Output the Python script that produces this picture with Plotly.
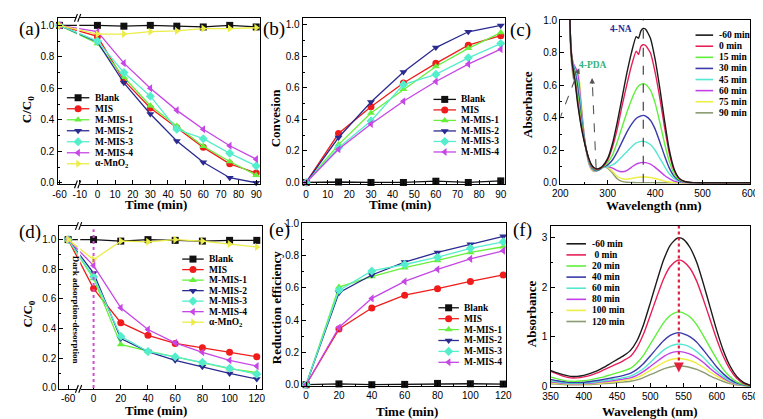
import plotly.graph_objects as go

W, H = 763, 419
SERIF = "Liberation Serif, Times New Roman, serif"
SANS = "Liberation Sans, Arial, sans-serif"

# ---------------- data ----------------
series_names = ["Blank", "MIS", "M-MIS-1", "M-MIS-2", "M-MIS-3", "M-MIS-4", "α-MnO<sub>2</sub>"]
series_colors = ["#111111", "#f01c1c", "#66f03c", "#2a2a90", "#55eecc", "#c646e6", "#ecec48"]
series_symbols = ["square", "circle", "triangle-up", "triangle-down", "diamond", "triangle-left", "triangle-right"]

# (a) C/C0 vs time
time_a = [-60, 0, 15, 30, 45, 60, 75, 90]
a_blank = [1.0, 1.0, 0.995, 1.0, 0.995, 0.99, 1.0, 0.99]
a_mis = [1.0, 0.93, 0.65, 0.475, 0.35, 0.225, 0.12, 0.062]
a_mmis1 = [1.0, 0.885, 0.67, 0.49, 0.36, 0.232, 0.135, 0.048]
a_mmis2 = [1.0, 0.895, 0.635, 0.437, 0.265, 0.13, 0.032, 0.0]
a_mmis3 = [1.0, 0.9, 0.70, 0.55, 0.34, 0.28, 0.187, 0.107]
a_mmis4 = [1.0, 0.96, 0.76, 0.60, 0.46, 0.34, 0.235, 0.15]
a_mno2 = [1.0, 0.945, 0.945, 0.96, 0.965, 0.98, 0.98, 0.985]
ticks_a = [-60, -10, 0, 10, 20, 30, 40, 50, 60, 70, 80, 90]

# (b) conversion
time_b = [0, 15, 30, 45, 60, 75, 90]
b_blank = [0.0, 0.003, 0.0, 0.0, 0.008, 0.0, 0.01]
b_mis = [0.0, 0.31, 0.48, 0.63, 0.755, 0.87, 0.93]
b_mmis1 = [0.0, 0.24, 0.44, 0.59, 0.735, 0.85, 0.95]
b_mmis2 = [0.0, 0.285, 0.51, 0.70, 0.855, 0.955, 0.995]
b_mmis3 = [0.0, 0.22, 0.39, 0.62, 0.685, 0.79, 0.88]
b_mmis4 = [0.0, 0.21, 0.37, 0.515, 0.64, 0.75, 0.845]

# (c) UV-vis spectra of 4-NA reduction
wl_c = [219, 222, 225, 228, 232, 236, 240, 245, 250, 255, 260, 265, 270, 275, 280, 285, 290,
        300, 310, 320, 330, 340, 350, 360, 365, 370, 375, 380, 390, 400, 410, 420, 430, 440, 450,
        460, 470, 480, 500, 550, 600]
c_m60 = [1.15, 0.85, 0.74, 0.68, 0.6, 0.5, 0.42, 0.33, 0.26, 0.2, 0.15, 0.115, 0.095, 0.087, 0.086, 0.092, 0.105,
         0.15, 0.24, 0.37, 0.52, 0.67, 0.80, 0.90, 0.89, 0.935, 0.95, 0.945, 0.89, 0.76, 0.58, 0.38, 0.20, 0.085, 0.03,
         0.01, 0.003, 0.001, 0, 0, 0]
c_0 = [1.15, 0.85, 0.74, 0.68, 0.61, 0.52, 0.43, 0.34, 0.265, 0.2, 0.148, 0.112, 0.092, 0.084, 0.084, 0.09, 0.1,
       0.14, 0.22, 0.33, 0.47, 0.60, 0.72, 0.81, 0.79, 0.84, 0.85, 0.845, 0.80, 0.68, 0.52, 0.34, 0.18, 0.075, 0.028,
       0.01, 0.003, 0.001, 0, 0, 0]
c_15 = [1.15, 0.85, 0.75, 0.7, 0.64, 0.56, 0.47, 0.36, 0.27, 0.2, 0.145, 0.108, 0.088, 0.08, 0.081, 0.088, 0.097,
        0.125, 0.17, 0.25, 0.34, 0.43, 0.51, 0.575, 0.595, 0.605, 0.61, 0.605, 0.57, 0.49, 0.37, 0.24, 0.13, 0.055, 0.02,
        0.008, 0.003, 0.001, 0, 0, 0]
c_30 = [1.15, 0.85, 0.75, 0.71, 0.67, 0.6, 0.51, 0.38, 0.28, 0.2, 0.14, 0.103, 0.084, 0.076, 0.078, 0.086, 0.096,
        0.11, 0.14, 0.19, 0.25, 0.31, 0.36, 0.395, 0.405, 0.412, 0.415, 0.41, 0.385, 0.33, 0.25, 0.165, 0.09, 0.04, 0.015,
        0.006, 0.002, 0.001, 0, 0, 0]
c_45 = [1.15, 0.85, 0.76, 0.72, 0.69, 0.64, 0.56, 0.41, 0.29, 0.2, 0.137, 0.1, 0.08, 0.073, 0.076, 0.085, 0.094,
        0.1, 0.11, 0.13, 0.16, 0.19, 0.22, 0.245, 0.25, 0.255, 0.255, 0.252, 0.235, 0.2, 0.15, 0.1, 0.055, 0.025, 0.01,
        0.004, 0.001, 0, 0, 0, 0]
c_60 = [1.15, 0.86, 0.77, 0.73, 0.71, 0.68, 0.6, 0.44, 0.3, 0.2, 0.133, 0.095, 0.077, 0.072, 0.078, 0.09, 0.1,
        0.1, 0.09, 0.075, 0.068, 0.075, 0.095, 0.115, 0.12, 0.124, 0.125, 0.124, 0.115, 0.095, 0.07, 0.045, 0.025, 0.01, 0.004,
        0.001, 0, 0, 0, 0, 0]
c_75 = [1.15, 0.86, 0.76, 0.72, 0.7, 0.7, 0.64, 0.47, 0.31, 0.2, 0.13, 0.09, 0.073, 0.07, 0.08, 0.092, 0.1,
        0.095, 0.07, 0.04, 0.025, 0.022, 0.026, 0.032, 0.034, 0.035, 0.035, 0.035, 0.032, 0.026, 0.018, 0.01, 0.005, 0.002, 0,
        0, 0, 0, 0, 0, 0]
c_90 = [1.1, 0.8, 0.7, 0.64, 0.62, 0.62, 0.57, 0.43, 0.29, 0.19, 0.12, 0.085, 0.07, 0.072, 0.082, 0.094, 0.1,
        0.09, 0.06, 0.025, 0.008, 0.003, 0.002, 0.001, 0.001, 0.001, 0.001, 0.001, 0.001, 0, 0, 0, 0, 0, 0,
        0, 0, 0, 0, 0, 0]
c_labels = ["-60 min", "0 min", "15 min", "30 min", "45 min", "60 min", "75 min", "90 min"]
peak_c = 375

# (d) C/C0 vs time
time_d = [-60, 0, 20, 40, 60, 80, 100, 120]
d_blank = [1.0, 1.0, 0.99, 1.0, 0.995, 0.99, 0.995, 0.995]
d_mis = [1.0, 0.67, 0.44, 0.355, 0.30, 0.27, 0.24, 0.21]
d_mmis1 = [1.0, 0.737, 0.293, 0.248, 0.21, 0.168, 0.13, 0.103]
d_mmis2 = [1.0, 0.775, 0.333, 0.245, 0.186, 0.142, 0.098, 0.06]
d_mmis3 = [1.0, 0.75, 0.348, 0.245, 0.21, 0.173, 0.133, 0.092]
d_mmis4 = [1.0, 0.825, 0.54, 0.394, 0.304, 0.24, 0.186, 0.147]
d_mno2 = [1.0, 0.865, 0.99, 0.985, 1.0, 0.99, 0.97, 0.95]
ticks_d = [-60, 0, 20, 40, 60, 80, 100, 120]

# (e) reduction efficiency
time_e = [0, 20, 40, 60, 80, 100, 120]
e_blank = [0.0, 0.005, 0.0, 0.002, 0.008, 0.006, 0.004]
e_mis = [0.0, 0.345, 0.475, 0.555, 0.595, 0.64, 0.68]
e_mmis1 = [0.0, 0.605, 0.67, 0.725, 0.77, 0.82, 0.855]
e_mmis2 = [0.0, 0.57, 0.68, 0.76, 0.82, 0.87, 0.92]
e_mmis3 = [0.0, 0.585, 0.705, 0.745, 0.79, 0.845, 0.885]
e_mmis4 = [0.0, 0.355, 0.535, 0.64, 0.715, 0.78, 0.83]

# (f) UV-vis spectra of Cr(VI)
wl_f = [350, 360, 370, 380, 390, 400, 410, 420, 430, 440, 450, 460, 470, 480, 490, 500,
        510, 520, 530, 540, 545, 550, 560, 570, 580, 590, 600, 610, 620, 630, 640, 650]
f_m60 = [0.32, 0.27, 0.23, 0.2, 0.2, 0.22, 0.26, 0.31, 0.38, 0.46, 0.54, 0.62, 0.72, 0.92, 1.25, 1.68,
         2.13, 2.55, 2.85, 2.99, 3.0, 2.97, 2.8, 2.5, 2.07, 1.6, 1.13, 0.72, 0.41, 0.2, 0.08, 0.02]
f_0 = [0.3, 0.25, 0.2, 0.17, 0.17, 0.19, 0.22, 0.27, 0.33, 0.39, 0.45, 0.52, 0.6, 0.78, 1.06, 1.43,
       1.81, 2.17, 2.42, 2.54, 2.55, 2.52, 2.38, 2.12, 1.75, 1.35, 0.95, 0.6, 0.34, 0.16, 0.06, 0.02]
f_20 = [0.19, 0.15, 0.12, 0.1, 0.1, 0.11, 0.13, 0.16, 0.19, 0.23, 0.27, 0.31, 0.36, 0.47, 0.63, 0.85,
        1.07, 1.28, 1.43, 1.5, 1.5, 1.48, 1.4, 1.24, 1.02, 0.78, 0.55, 0.34, 0.19, 0.09, 0.04, 0.01]
f_40 = [0.14, 0.11, 0.09, 0.075, 0.075, 0.08, 0.095, 0.115, 0.14, 0.165, 0.19, 0.22, 0.26, 0.34, 0.46, 0.61,
        0.77, 0.92, 1.03, 1.08, 1.08, 1.06, 1.0, 0.89, 0.73, 0.56, 0.39, 0.25, 0.14, 0.07, 0.03, 0.01]
f_60 = [0.11, 0.09, 0.07, 0.06, 0.06, 0.065, 0.075, 0.09, 0.11, 0.13, 0.15, 0.175, 0.205, 0.27, 0.36, 0.48,
        0.61, 0.73, 0.81, 0.85, 0.85, 0.84, 0.79, 0.7, 0.58, 0.44, 0.31, 0.2, 0.11, 0.055, 0.025, 0.01]
f_80 = [0.09, 0.075, 0.06, 0.05, 0.05, 0.055, 0.062, 0.075, 0.09, 0.105, 0.125, 0.145, 0.17, 0.22, 0.3, 0.4,
        0.5, 0.6, 0.67, 0.7, 0.7, 0.69, 0.65, 0.58, 0.48, 0.36, 0.255, 0.165, 0.09, 0.045, 0.02, 0.01]
f_100 = [0.07, 0.06, 0.048, 0.04, 0.04, 0.044, 0.05, 0.06, 0.072, 0.084, 0.1, 0.116, 0.136, 0.176, 0.24, 0.32,
         0.4, 0.48, 0.536, 0.56, 0.56, 0.552, 0.52, 0.464, 0.384, 0.288, 0.204, 0.132, 0.072, 0.036, 0.016, 0.008]
f_120 = [0.05, 0.044, 0.035, 0.03, 0.03, 0.032, 0.036, 0.044, 0.053, 0.061, 0.073, 0.085, 0.1, 0.128, 0.175, 0.234,
         0.29, 0.35, 0.39, 0.41, 0.41, 0.403, 0.38, 0.34, 0.28, 0.21, 0.15, 0.096, 0.053, 0.026, 0.012, 0.006]
f_labels = ["-60 min", " 0 min", "20 min", "40 min", "60 min", "80 min", "100 min", "120 min"]
peak_f = 543

spec_colors = ["#1a1a1a", "#e8205a", "#5ef03c", "#3a3aaa", "#55e8d0", "#c242e8", "#eeee44", "#8c9a72"]

# ---------------- helpers ----------------
def X(v):
    return v / W

def Y(v):
    return 1 - v / H

def brk_a(t):
    return t + 38.5 if t < -30 else t

def brk_d(t):
    return t + 41.3 if t < -30 else t

fig = go.Figure()

# panel boxes in pixels: x0, x1, ytop, ybottom
boxes = {
    1: (42.5, 250, 4, 175),
    2: (293.3, 500, 4, 175),
    3: (556.7, 750.7, 6, 174.3),
    4: (44.3, 251.7, 217.7, 385),
    5: (292.7, 500.7, 215, 381.7),
    6: (546.7, 750.7, 217.7, 383.3),
}
axis_common = dict(showline=True, linecolor="black", linewidth=1.2, mirror=True, ticks="inside",
                   ticklen=4, tickwidth=1, tickcolor="black", showgrid=False, zeroline=False,
                   tickfont=dict(family=SANS, size=10, color="black"), fixedrange=True)
lay = {}
for i, (x0, x1, yt, yb) in boxes.items():
    sx = "" if i == 1 else str(i)
    lay["xaxis" + sx] = dict(domain=[X(x0), X(x1)], anchor="y" + sx, **axis_common)
    lay["yaxis" + sx] = dict(domain=[Y(yb), Y(yt)], anchor="x" + sx, **axis_common)

minor = dict(ticks="inside", ticklen=2, tickcolor="black")
lay["xaxis"].update(range=[-22.6, 92.4], tickvals=[brk_a(t) for t in ticks_a], ticktext=[str(t) for t in ticks_a])
lay["yaxis"].update(range=[-0.0105, 1.0476], dtick=0.2, tickformat=".1f", minor=dict(dtick=0.1, **minor))
lay["xaxis2"].update(range=[-1.54, 91.9], dtick=10, minor=dict(dtick=5, **minor))
lay["yaxis2"].update(range=[-0.0123, 1.043], dtick=0.2, tickformat=".1f", minor=dict(dtick=0.1, **minor))
lay["xaxis3"].update(range=[200, 600], dtick=100, minor=dict(dtick=50, **minor))
lay["yaxis3"].update(range=[-0.006, 1.003], dtick=0.2, tickformat=".1f", minor=dict(dtick=0.1, **minor))
lay["xaxis4"].update(range=[-25.2, 123.9], tickvals=[brk_d(t) for t in ticks_d], ticktext=[str(t) for t in ticks_d])
lay["yaxis4"].update(range=[-0.0066, 1.092], dtick=0.2, tickformat=".1f", minor=dict(dtick=0.1, **minor))
lay["xaxis5"].update(range=[-2.38, 121.4], dtick=20, minor=dict(dtick=10, **minor))
lay["yaxis5"].update(range=[-0.006, 1.0], dtick=0.2, tickformat=".1f", minor=dict(dtick=0.1, **minor))
lay["xaxis6"].update(range=[350, 650], dtick=50, minor=dict(dtick=25, **minor))
lay["yaxis6"].update(range=[-0.02, 3.24], dtick=1, minor=dict(dtick=0.5, **minor))
# overlay pixel axis for hand-built legends
lay["xaxis7"] = dict(domain=[0, 1], range=[0, W], visible=False, fixedrange=True, anchor="y7")
lay["yaxis7"] = dict(domain=[0, 1], range=[H, 0], visible=False, fixedrange=True, anchor="x7")

MS = 7
LW = 1.3

def add_series(times, values, idx, xa, ya, tf=None):
    xs = [tf(t) for t in times] if tf else times
    fig.add_trace(go.Scatter(x=xs, y=values, mode="lines+markers", xaxis=xa, yaxis=ya,
                             line=dict(color=series_colors[idx], width=LW),
                             marker=dict(symbol=series_symbols[idx], size=MS, color=series_colors[idx]),
                             cliponaxis=False, showlegend=False, hoverinfo="skip"))

a_sets = [a_blank, a_mis, a_mmis1, a_mmis2, a_mmis3, a_mmis4, a_mno2]
for k, v in enumerate(a_sets):
    add_series(time_a, v, k, "x", "y", brk_a)
b_sets = [b_blank, b_mis, b_mmis1, b_mmis2, b_mmis3, b_mmis4]
for k, v in enumerate(b_sets):
    add_series(time_b, v, k, "x2", "y2")
d_sets = [d_blank, d_mis, d_mmis1, d_mmis2, d_mmis3, d_mmis4, d_mno2]
for k, v in enumerate(d_sets):
    add_series(time_d, v, k, "x4", "y4", brk_d)
e_sets = [e_blank, e_mis, e_mmis1, e_mmis2, e_mmis3, e_mmis4]
for k, v in enumerate(e_sets):
    add_series(time_e, v, k, "x5", "y5")

c_sets = [c_m60, c_0, c_15, c_30, c_45, c_60, c_75, c_90]
for k in range(len(c_sets) - 1, -1, -1):
    fig.add_trace(go.Scatter(x=wl_c, y=c_sets[k], mode="lines", xaxis="x3", yaxis="y3",
                             line=dict(color=spec_colors[k], width=1.4, shape="spline", smoothing=0.5),
                             showlegend=False, hoverinfo="skip"))
f_sets = [f_m60, f_0, f_20, f_40, f_60, f_80, f_100, f_120]
for k in range(len(f_sets) - 1, -1, -1):
    fig.add_trace(go.Scatter(x=wl_f, y=f_sets[k], mode="lines", xaxis="x6", yaxis="y6",
                             line=dict(color=spec_colors[k], width=1.4, shape="spline", smoothing=0.6),
                             showlegend=False, hoverinfo="skip"))

annotations = []
shapes = []

def text(xp, yp, s, size=9.5, color="black", bold=True, family=SERIF, xanchor="left", angle=0):
    annotations.append(dict(x=X(xp), y=Y(yp), xref="paper", yref="paper", text=s, showarrow=False,
                            xanchor=xanchor, yanchor="middle", textangle=angle,
                            font=dict(family=family, size=size, color=color, weight="bold" if bold else "normal")))

# hand-built legends
def marker_legend(n, lx0, lx1, tx, y0, dy):
    for k in range(n):
        yy = y0 + k * dy
        fig.add_trace(go.Scatter(x=[lx0, lx1], y=[yy, yy], mode="lines", xaxis="x7", yaxis="y7",
                                 line=dict(color=series_colors[k], width=LW), showlegend=False, hoverinfo="skip"))
        fig.add_trace(go.Scatter(x=[(lx0 + lx1) / 2], y=[yy], mode="markers", xaxis="x7", yaxis="y7",
                                 marker=dict(symbol=series_symbols[k], size=MS, color=series_colors[k]),
                                 cliponaxis=False, showlegend=False, hoverinfo="skip"))
        text(tx, yy, series_names[k])

def line_legend(labels, lx0, lx1, tx, y0, dy):
    for k, lab in enumerate(labels):
        yy = y0 + k * dy
        fig.add_trace(go.Scatter(x=[lx0, lx1], y=[yy, yy], mode="lines", xaxis="x7", yaxis="y7",
                                 line=dict(color=spec_colors[k], width=1.6), showlegend=False, hoverinfo="skip"))
        text(tx, yy, lab)

marker_legend(7, 52, 75, 79, 86, 11.3)
marker_legend(6, 427, 450, 453, 87.7, 10.8)
line_legend(c_labels, 695, 713, 717, 21.7, 11.4)
marker_legend(7, 170, 192, 195, 251.7, 10.8)
marker_legend(6, 432, 453, 456, 301.7, 11.2)
line_legend(f_labels, 563, 583, 587, 236, 11.4)

# panel labels
for lab, (px_, py_) in zip(["(a)", "(b)", "(c)", "(d)", "(e)", "(f)"],
                           [(14, 15), (264, 15), (516, 16), (14, 224), (269, 222), (518, 222)]):
    text(px_, py_, lab, size=19, bold=False, xanchor="center")

# axis titles
TS = 13
text(143, 196, "Time (min)", size=TS, xanchor="center")
text(393, 196, "Time (min)", size=TS, xanchor="center")
text(653, 197, "Wavelength (nm)", size=TS, xanchor="center")
text(143, 407, "Time (min)", size=TS, xanchor="center")
text(400, 408, "Time (min)", size=TS, xanchor="center")
text(648, 408, "Wavelength (nm)", size=TS, xanchor="center")
text(12, 98, "C/C<sub>0</sub>", size=TS, xanchor="center", angle=-90)
text(265, 107, "Convesion", size=TS, xanchor="center", angle=-90)
text(523, 93, "Absorbance", size=TS, xanchor="center", angle=-90)
text(13, 308, "C/C<sub>0</sub>", size=TS, xanchor="center", angle=-90)
text(266, 301, "Reduction efficiency", size=TS, xanchor="center", angle=-90)
text(528, 308, "Absorbance", size=TS, xanchor="center", angle=-90)

# panel (c) decorations
text(619, 15, "4-NA", size=9.5, color="#2a2a9a", xanchor="center")
text(590, 52, "4-PDA", size=9.5, color="#35b37d", xanchor="center")
shapes.append(dict(type="line", xref="x3", yref="y3", x0=peak_c, x1=peak_c, y0=0, y1=1.0,
                   line=dict(color="#444444", width=1.2, dash="dash")))
shapes.append(dict(type="line", xref="x3", yref="y3", x0=197, y0=0.38, x1=238, y1=0.69,
                   line=dict(color="#555555", width=1.1, dash="dash")))
shapes.append(dict(type="line", xref="x3", yref="y3", x0=275.5, y0=0.09, x1=267.5, y1=0.62,
                   line=dict(color="#555555", width=1.1, dash="dash")))
annotations.append(dict(x=240, y=0.705, ax=236, ay=0.675, xref="x3", yref="y3", axref="x3", ayref="y3",
                        text="", showarrow=True, arrowhead=2, arrowsize=1, arrowwidth=1.1, arrowcolor="#555555"))
annotations.append(dict(x=267, y=0.645, ax=267.5, ay=0.6, xref="x3", yref="y3", axref="x3", ayref="y3",
                        text="", showarrow=True, arrowhead=2, arrowsize=1, arrowwidth=1.1, arrowcolor="#555555"))

# panel (d) decorations
shapes.append(dict(type="line", xref="x4", yref="y4", x0=0, x1=0, y0=0, y1=1.07,
                   line=dict(color="#d050d0", width=2, dash="dot")))
text(61.7, 304, "Dark adsorption-desorption", size=9, xanchor="center", angle=90)

# panel (f) decorations
shapes.append(dict(type="line", xref="x6", yref="y6", x0=peak_f, x1=peak_f, y0=0.4, y1=3.25,
                   line=dict(color="#e0203c", width=2.2, dash="dot")))
annotations.append(dict(x=peak_f, y=0.28, ax=peak_f, ay=0.5, xref="x6", yref="y6", axref="x6", ayref="y6",
                        text="", showarrow=True, arrowhead=2, arrowsize=1, arrowwidth=2, arrowcolor="#e0203c"))

# axis breaks (gap in frame and in the lines crossing it)
def axis_break(xc, ytop, ybot, gap_top, gap_bot):
    shapes.append(dict(type="rect", xref="paper", yref="paper", x0=X(xc - 1.2), x1=X(xc + 1.2),
                       y0=Y(gap_bot), y1=Y(gap_top), line=dict(width=0), fillcolor="white", layer="above"))
    for yy in (ytop, ybot):
        shapes.append(dict(type="rect", xref="paper", yref="paper", x0=X(xc - 2), x1=X(xc + 2),
                           y0=Y(yy + 2), y1=Y(yy - 2), line=dict(width=0), fillcolor="white", layer="above"))
        for dx in (-2.2, 1.2):
            shapes.append(dict(type="line", xref="paper", yref="paper",
                               x0=X(xc + dx - 1.5), y0=Y(yy + 4), x1=X(xc + dx + 1.5), y1=Y(yy - 4),
                               line=dict(color="black", width=1.1), layer="above"))

axis_break(63.5, 4, 175, 6, 30)
axis_break(64.5, 217.7, 385, 220, 262)

fig.update_layout(width=W, height=H, margin=dict(l=0, r=0, t=0, b=0), paper_bgcolor="white",
                  plot_bgcolor="rgba(0,0,0,0)", showlegend=False, annotations=annotations, shapes=shapes, **lay)
fig.write_html("out.html")
